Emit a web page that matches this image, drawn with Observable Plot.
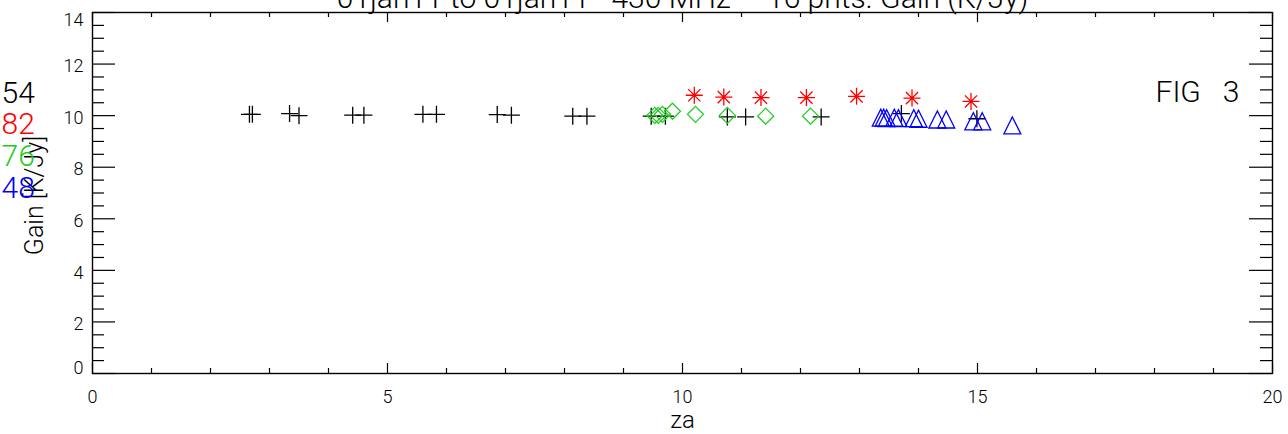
<!DOCTYPE html>
<html><head><meta charset="utf-8">
<script src="https://cdn.jsdelivr.net/npm/d3@7"></script>
<script src="https://cdn.jsdelivr.net/npm/@observablehq/plot@0.6"></script>
<style>
html,body{margin:0;padding:0;background:#fff;}
svg text{white-space:pre;}
</style></head><body><div id="chart"></div>
<script>
// ---- data ----
const titleText = "01jan11 to 01jan11   430 MHz     16 pnts. Gain (K/Jy)";
const figText = "FIG   3";
const xLabel = "za";
const yLabel = "Gain [K/Jy]";

const legendLabels = ["54", "82", "76", "48"];
const legendColors = ["#000000", "#ff0000", "#22cc22", "#0000ff"];

const za54 = [2.66, 2.71, 3.34, 3.50, 4.41, 4.60, 5.60, 5.83, 6.86, 7.10, 8.14, 8.38, 9.47, 9.71, 10.76, 11.07, 12.35, 13.71, 14.99];
const gain54 = [10.05, 10.05, 10.08, 10.00, 10.02, 10.02, 10.05, 10.05, 10.04, 10.02, 9.98, 9.98, 9.98, 9.98, 9.95, 9.95, 9.95, 10.08, 9.88];

const za82 = [10.20, 10.70, 11.33, 12.10, 12.95, 13.89, 14.89];
const gain82 = [10.79, 10.72, 10.70, 10.70, 10.75, 10.68, 10.55];

const za76 = [9.53, 9.59, 9.66, 9.83, 10.22, 10.76, 11.41, 12.17];
const gain76 = [10.01, 10.01, 10.05, 10.17, 10.05, 10.01, 9.98, 9.98];

const za48 = [13.36, 13.41, 13.46, 13.59, 13.66, 13.92, 14.00, 14.32, 14.47, 14.93, 15.08, 15.59];
const gain48 = [9.92, 9.92, 9.90, 9.92, 9.90, 9.90, 9.88, 9.85, 9.85, 9.78, 9.78, 9.62];

const xMajor = [0, 5, 10, 15, 20];
const xMinor = d3.range(0, 21, 1).filter(v => v % 5 !== 0);
const yMajor = [0, 2, 4, 6, 8, 10, 12, 14];
const yMinor = d3.range(0.5, 14, 0.5).filter(v => v % 2 !== 0);

// ---- symbols (IDL style, stroked) ----
const R = (size) => Math.sqrt(size / Math.PI);
const symPlus = {draw(c, s){const r=R(s); c.moveTo(-r,0);c.lineTo(r,0);c.moveTo(0,-r);c.lineTo(0,r);}};
const symAst = {draw(c, s){const r=R(s), d=r*0.72; c.moveTo(-r,0);c.lineTo(r,0);c.moveTo(0,-r);c.lineTo(0,r);c.moveTo(-d,-d);c.lineTo(d,d);c.moveTo(-d,d);c.lineTo(d,-d);}};
const symDia = {draw(c, s){const r=R(s); c.moveTo(0,-r);c.lineTo(r,0);c.lineTo(0,r);c.lineTo(-r,0);c.closePath();}};
const symTri = {draw(c, s){const r=R(s); c.moveTo(-r,r);c.lineTo(0,-r);c.lineTo(r,r);c.closePath();}};

const toRows = (xs, ys) => xs.map((x, i) => ({za: x, gain: ys[i]}));
const d54 = toRows(za54, gain54), d82 = toRows(za82, gain82), d76 = toRows(za76, gain76), d48 = toRows(za48, gain48);

// ---- layout ----
const W = 1288, H = 434, mL = 92, mR = 16, mT = 12, mB = 61;
const pW = W - mL - mR, pH = H - mT - mB;
const FONT = "Roboto, 'DejaVu Sans', sans-serif";
const ax = {stroke: "#000", strokeWidth: 1.2};
const legendDy = [81, 112, 144, 176];

const chart = Plot.plot({
  width: W, height: H, marginLeft: mL, marginRight: mR, marginTop: mT, marginBottom: mB,
  style: {fontFamily: FONT, fontSize: "18px", fontWeight: 300, background: "#fff", color: "#000"},
  x: {domain: [0, 20]},
  y: {domain: [0, 14]},
  marks: [
    Plot.frame({stroke: "#000", strokeWidth: 1.4}),
    // y ticks left/right
    Plot.ruleY(yMajor, {...ax, insetRight: pW - 23}),
    Plot.ruleY(yMinor, {...ax, insetRight: pW - 12}),
    Plot.ruleY(yMajor, {...ax, insetLeft: pW - 23}),
    Plot.ruleY(yMinor, {...ax, insetLeft: pW - 12}),
    // x ticks bottom/top
    Plot.ruleX(xMajor, {...ax, insetTop: pH - 10}),
    Plot.ruleX(xMinor, {...ax, insetTop: pH - 5}),
    Plot.ruleX(xMajor, {...ax, insetBottom: pH - 10}),
    Plot.ruleX(xMinor, {...ax, insetBottom: pH - 5}),
    // tick labels
    Plot.axisX(xMajor, {tickSize: 0, tickPadding: 17, fontSize: 18, label: null}),
    Plot.axisY([2, 4, 6, 8, 10, 12], {tickSize: 0, tickPadding: 9, dy: 2.5, fontSize: 18, label: null}),
    Plot.axisY([0], {tickSize: 0, tickPadding: 9, dy: -5, fontSize: 18, label: null}),
    Plot.axisY([14], {tickSize: 0, tickPadding: 9, dy: 8, fontSize: 18, label: null}),
    // axis titles
    Plot.text([xLabel], {frameAnchor: "bottom", dy: 47, lineAnchor: "middle", fontSize: 24}),
    Plot.text([yLabel], {frameAnchor: "left", dx: -58, dy: 2.5, rotate: -90, textAnchor: "middle", lineAnchor: "middle", fontSize: 25}),
    // title (clipped at top, as in reference)
    Plot.text([titleText], {frameAnchor: "top", dy: -5, lineAnchor: "bottom", fontSize: 30}),
    Plot.text([figText], {frameAnchor: "top-right", dx: -117, dy: 80, textAnchor: "start", lineAnchor: "middle", fontSize: 30}),
    // legend numbers
    ...legendLabels.map((t, i) => Plot.text([t], {frameAnchor: "top-left", dx: -91, dy: legendDy[i], textAnchor: "start", lineAnchor: "middle", fontSize: 30, fill: legendColors[i]})),
    // data
    Plot.dot(d54, {x: "za", y: "gain", symbol: symPlus, r: 8.5, stroke: "#000000", strokeWidth: 1.3, fill: "none"}),
    Plot.dot(d82, {x: "za", y: "gain", symbol: symAst, r: 8.5, stroke: "#ff0000", strokeWidth: 1.3, fill: "none"}),
    Plot.dot(d76, {x: "za", y: "gain", symbol: symDia, r: 8, stroke: "#22cc22", strokeWidth: 1.3, fill: "none"}),
    Plot.dot(d48, {x: "za", y: "gain", symbol: symTri, r: 8.5, stroke: "#0000ff", strokeWidth: 1.3, fill: "none"})
  ]
});
document.getElementById("chart").appendChild(chart);
</script></body></html>
